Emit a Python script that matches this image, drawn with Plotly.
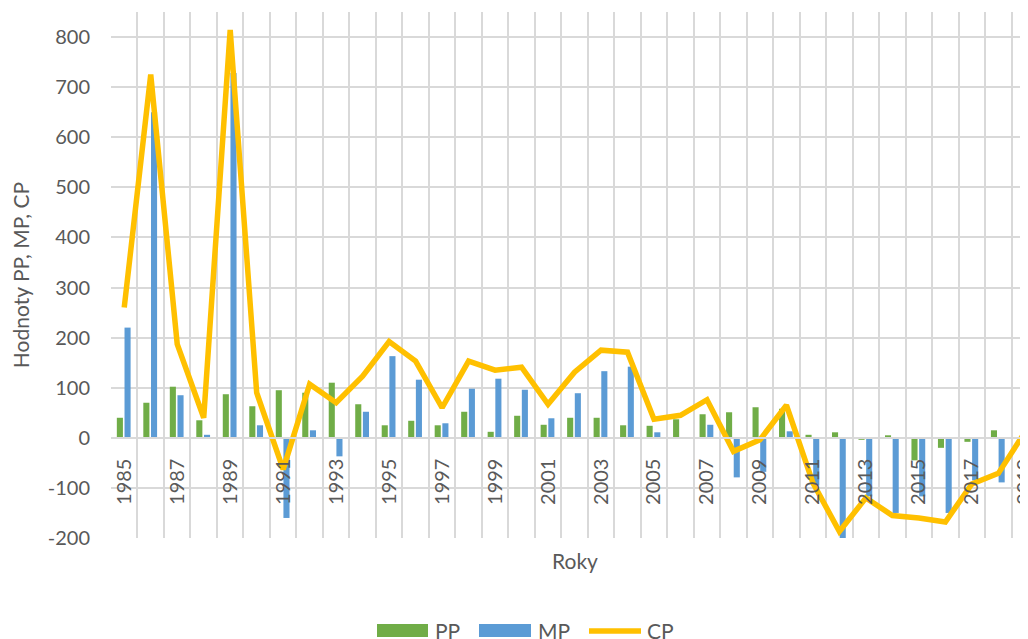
import plotly.graph_objects as go

years = list(range(1985, 2020))

pp = [40, 70, 102, 35, 87, 63, 95, 90, 110, 67,
      25, 34, 25, 52, 12, 44, 26, 40, 40, 25,
      24, 37, 47, 51, 61, 58, 6, 11, -4, 5,
      -45, -20, -8, 15, -8]

mp = [220, 650, 85, 6, 728, 25, -160, 15, -37, 52,
      163, 116, 29, 98, 118, 96, 39, 89, 133, 142,
      11, 0, 26, -79, -68, 13, -95, -205, -117, -150,
      -117, -150, -85, -89, 20]

cp = [260, 725, 187, 40, 814, 90, -63, 107, 70, 123,
      192, 153, 60, 153, 135, 141, 67, 131, 175, 171,
      37, 45, 76, -27, -4, 65, -90, -187, -120, -155,
      -160, -168, -92, -71, 11]

y_ticks = list(range(-200, 900, 100))

GREEN = "#70AD47"
BLUE = "#5B9BD5"
GOLD = "#FFC000"
GRID = "#D9D9D9"
TEXT = "#595959"
FONT = "Lato, 'Open Sans', sans-serif"

# the page body adds an 8px margin, so the figure is shifted by that much
OFF = 8
W, H = 1028 - OFF, 639 - OFF
L, R, T, B = 111 - OFF, 0, 12 - OFF, 639 - 538
Y_MIN, Y_MAX = -200, 850


def px(x):
    # screen pixel -> paper x
    return (x - OFF - L) / (W - L - R)


def py(y):
    # screen pixel -> paper y
    return (H - B - (y - OFF)) / (H - T - B)


fig = go.Figure()

fig.add_trace(go.Bar(
    x=years, y=pp, name="PP", showlegend=False,
    marker=dict(color=GREEN, line=dict(width=0)),
    width=0.23, offset=-0.28,
))
fig.add_trace(go.Bar(
    x=years, y=mp, name="MP", showlegend=False,
    marker=dict(color=BLUE, line=dict(width=0)),
    width=0.23, offset=0.01,
))
fig.add_trace(go.Scatter(
    x=years, y=cp, name="CP", mode="lines", showlegend=False,
    line=dict(color=GOLD, width=5.5),
))

# legend drawn by hand so the swatches look like the original
legend_shapes = [
    dict(type="rect", xref="paper", yref="paper",
         x0=px(377), x1=px(428), y0=py(637), y1=py(624),
         fillcolor=GREEN, line=dict(width=0)),
    dict(type="rect", xref="paper", yref="paper",
         x0=px(479), x1=px(531), y0=py(637), y1=py(624),
         fillcolor=BLUE, line=dict(width=0)),
    dict(type="line", xref="paper", yref="paper",
         x0=px(589), x1=px(641), y0=py(631), y1=py(631),
         line=dict(color=GOLD, width=5.5)),
]
legend_labels = [("PP", 433), ("MP", 536), ("CP", 645)]

annotations = [
    dict(text="Roky", xref="paper", yref="paper",
         x=px(575), y=py(560), xanchor="center", yanchor="middle",
         showarrow=False, font=dict(size=21, color=TEXT)),
]
for label, x in legend_labels:
    annotations.append(dict(
        text=label, xref="paper", yref="paper",
        x=px(x), y=py(630), xanchor="left", yanchor="middle",
        showarrow=False, font=dict(size=21, color=TEXT),
    ))

fig.update_layout(
    width=W,
    height=H,
    barmode="overlay",
    paper_bgcolor="white",
    plot_bgcolor="white",
    font=dict(family=FONT, size=20, color=TEXT),
    margin=dict(l=L, r=R, t=T, b=B, autoexpand=False),
    showlegend=False,
    xaxis=dict(
        range=[1984.5, 2019.12],
        anchor="free",
        position=(0 - Y_MIN) / (Y_MAX - Y_MIN),
        tickmode="array",
        tickvals=years[::2],
        ticktext=[str(y) for y in years[::2]],
        tickangle=-90,
        ticks="",
        ticklabelstandoff=12,
        ticklabeloverflow="allow",
        showgrid=False,
        showline=True,
        linecolor=GRID,
        linewidth=1.5,
        zeroline=False,
        automargin=False,
        tickfont=dict(size=20, color=TEXT),
        minor=dict(
            tick0=1984.5,
            dtick=1,
            showgrid=True,
            gridcolor=GRID,
            gridwidth=1.5,
        ),
    ),
    yaxis=dict(
        range=[Y_MIN, Y_MAX],
        tickmode="array",
        tickvals=y_ticks,
        ticktext=[str(v) for v in y_ticks],
        showgrid=True,
        gridcolor=GRID,
        gridwidth=1.5,
        zeroline=False,
        showline=False,
        ticks="",
        automargin=False,
        ticklabelstandoff=20,
        tickfont=dict(size=20, color=TEXT),
        title=dict(text="Hodnoty PP, MP, CP", font=dict(size=21, color=TEXT), standoff=12),
    ),
    shapes=legend_shapes,
    annotations=annotations,
)

fig.write_html("out.html")
